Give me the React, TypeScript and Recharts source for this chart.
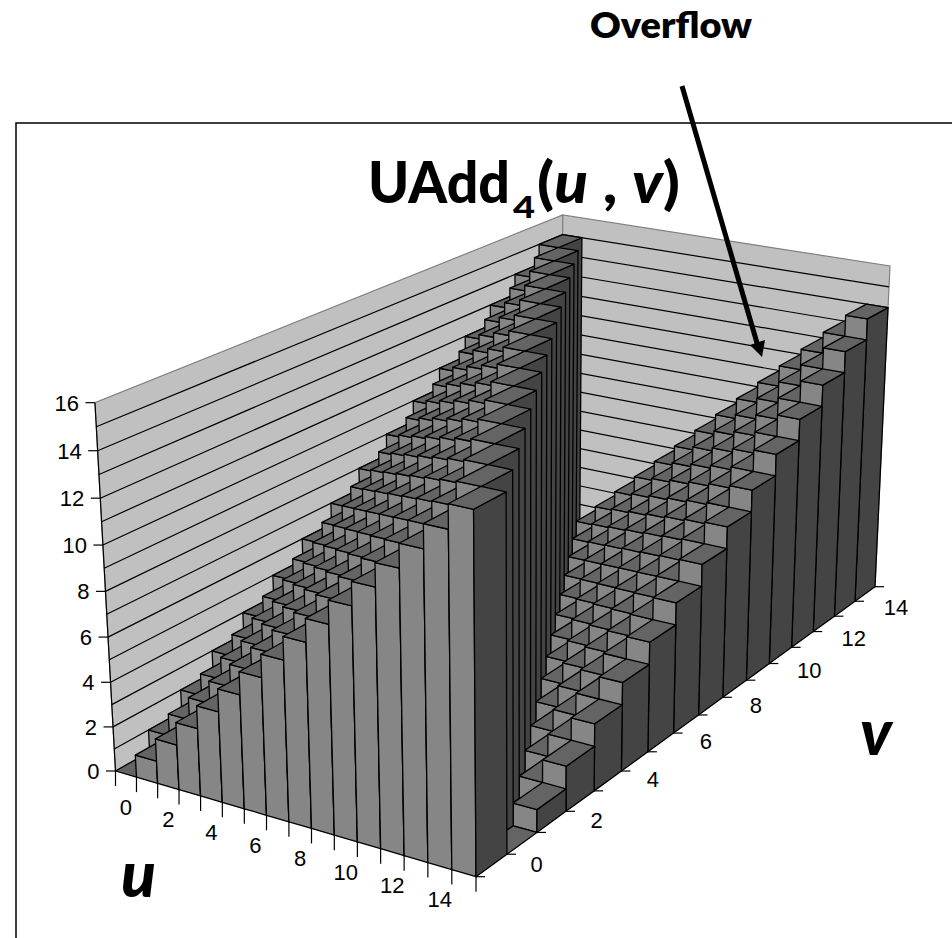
import { ScatterChart, Scatter, XAxis, YAxis } from "recharts";

const WIDTH = 952;
const HEIGHT = 938;

// u categories along the front-left edge, v categories along the front-right edge
const uCategories = [0, 1, 2, 3, 4, 5, 6, 7, 8, 9, 10, 11, 12, 13, 14, 15];
const uLabels = [0, 2, 4, 6, 8, 10, 12, 14];
const vLabels = [0, 2, 4, 6, 8, 10, 12, 14];
const edgeTicks = [0, 1, 2, 3, 4, 5, 6, 7, 8, 9, 10, 11, 12, 13, 14, 15, 16];
const valueTicks = [0, 2, 4, 6, 8, 10, 12, 14, 16];
const wallLines = [1, 2, 3, 4, 5, 6, 7, 8, 9, 10, 11, 12, 13, 14, 15];

// one row of bar heights per v
const rowV0 = [0, 1, 2, 3, 4, 5, 6, 7, 8, 9, 10, 11, 12, 13, 14, 15];
const rowV1 = [1, 2, 3, 4, 5, 6, 7, 8, 9, 10, 11, 12, 13, 14, 15, 0];
const rowV2 = [2, 3, 4, 5, 6, 7, 8, 9, 10, 11, 12, 13, 14, 15, 0, 1];
const rowV3 = [3, 4, 5, 6, 7, 8, 9, 10, 11, 12, 13, 14, 15, 0, 1, 2];
const rowV4 = [4, 5, 6, 7, 8, 9, 10, 11, 12, 13, 14, 15, 0, 1, 2, 3];
const rowV5 = [5, 6, 7, 8, 9, 10, 11, 12, 13, 14, 15, 0, 1, 2, 3, 4];
const rowV6 = [6, 7, 8, 9, 10, 11, 12, 13, 14, 15, 0, 1, 2, 3, 4, 5];
const rowV7 = [7, 8, 9, 10, 11, 12, 13, 14, 15, 0, 1, 2, 3, 4, 5, 6];
const rowV8 = [8, 9, 10, 11, 12, 13, 14, 15, 0, 1, 2, 3, 4, 5, 6, 7];
const rowV9 = [9, 10, 11, 12, 13, 14, 15, 0, 1, 2, 3, 4, 5, 6, 7, 8];
const rowV10 = [10, 11, 12, 13, 14, 15, 0, 1, 2, 3, 4, 5, 6, 7, 8, 9];
const rowV11 = [11, 12, 13, 14, 15, 0, 1, 2, 3, 4, 5, 6, 7, 8, 9, 10];
const rowV12 = [12, 13, 14, 15, 0, 1, 2, 3, 4, 5, 6, 7, 8, 9, 10, 11];
const rowV13 = [13, 14, 15, 0, 1, 2, 3, 4, 5, 6, 7, 8, 9, 10, 11, 12];
const rowV14 = [14, 15, 0, 1, 2, 3, 4, 5, 6, 7, 8, 9, 10, 11, 12, 13];
const rowV15 = [15, 0, 1, 2, 3, 4, 5, 6, 7, 8, 9, 10, 11, 12, 13, 14];

const rows = [
  rowV0, rowV1, rowV2, rowV3, rowV4, rowV5, rowV6, rowV7,
  rowV8, rowV9, rowV10, rowV11, rowV12, rowV13, rowV14, rowV15,
];

// back rows first, so nearer bars paint over them
const cells = rows
  .map((row, v) => uCategories.map((u) => ({ u, v, value: row[u] })))
  .reverse()
  .flat();

const COLORS = {
  wall: "#c0c0c0",
  wallEdge: "#808080",
  top: "#646464",
  light: "#868686",
  dark: "#444444",
};

// camera: floor corners on screen with their weights, and where the verticals meet
const cornerA = { x: 115.5, y: 771, w: 20.89 }; // u=0, v=0
const cornerB = { x: 476, y: 876.7, w: 19.36 }; // u=16, v=0
const cornerC = { x: 875, y: 586.7, w: 24.42 }; // u=16, v=16
const vanish = { x: 524, y: 8097 };
const SPAN = 16;

function project(u: number, v: number, z: number) {
  const a = u / SPAN;
  const b = v / SPAN;
  const c = z / SPAN;
  const hx =
    cornerA.w * cornerA.x +
    a * (cornerB.w * cornerB.x - cornerA.w * cornerA.x) +
    b * (cornerC.w * cornerC.x - cornerB.w * cornerB.x) -
    c * vanish.x;
  const hy =
    cornerA.w * cornerA.y +
    a * (cornerB.w * cornerB.y - cornerA.w * cornerA.y) +
    b * (cornerC.w * cornerC.y - cornerB.w * cornerB.y) -
    c * vanish.y;
  const hw = cornerA.w + a * (cornerB.w - cornerA.w) + b * (cornerC.w - cornerB.w) - c;
  return { x: hx / hw, y: hy / hw };
}

function poly(points: number[][]) {
  return points
    .map(([u, v, z]) => {
      const p = project(u, v, z);
      return `${p.x.toFixed(2)},${p.y.toFixed(2)}`;
    })
    .join(" ");
}

// the scales lay the floor out flat over the plot area, this turns that into u and v
function BarShape(props: any) {
  const u = (props.cx / WIDTH) * SPAN;
  const v = ((HEIGHT - props.cy) / HEIGHT) * SPAN;
  const h = props.payload.value;
  const line = { stroke: "#000", strokeWidth: 1.3, strokeLinejoin: "round" as const };
  return (
    <g>
      {h > 0 && (
        <polygon
          points={poly([[u, v, 0], [u + 1, v, 0], [u + 1, v, h], [u, v, h]])}
          fill={COLORS.light}
          {...line}
        />
      )}
      {h > 0 && (
        <polygon
          points={poly([[u + 1, v, 0], [u + 1, v + 1, 0], [u + 1, v + 1, h], [u + 1, v, h]])}
          fill={COLORS.dark}
          {...line}
        />
      )}
      <polygon
        points={poly([[u, v, h], [u + 1, v, h], [u + 1, v + 1, h], [u, v + 1, h]])}
        fill={COLORS.top}
        {...line}
      />
    </g>
  );
}

function Walls() {
  const base = project(0, 0, 0);
  const tip = project(0, 0, SPAN);
  return (
    <g>
      <polygon
        points={poly([[0, 0, 0], [0, SPAN, 0], [0, SPAN, SPAN], [0, 0, SPAN]])}
        fill={COLORS.wall}
        stroke={COLORS.wallEdge}
        strokeWidth={1.2}
      />
      <polygon
        points={poly([[0, SPAN, 0], [SPAN, SPAN, 0], [SPAN, SPAN, SPAN], [0, SPAN, SPAN]])}
        fill={COLORS.wall}
        stroke={COLORS.wallEdge}
        strokeWidth={1.2}
      />
      <polygon
        points={poly([[0, 0, 0], [SPAN, 0, 0], [SPAN, SPAN, 0], [0, SPAN, 0]])}
        fill={COLORS.top}
      />
      <line x1={base.x} y1={base.y} x2={tip.x} y2={tip.y} stroke="#000" strokeWidth={1.2} />
    </g>
  );
}

// wall lines sit on the value axis, so z comes back from its scale
function WallLine(props: any) {
  const z = ((HEIGHT - props.cy) / HEIGHT) * SPAN;
  return (
    <polyline
      points={poly([[0, 0, z], [0, SPAN, z], [SPAN, SPAN, z]])}
      fill="none"
      stroke="#000"
      strokeWidth={1.2}
    />
  );
}

const tickFont = { fontFamily: "'Liberation Sans', Arial, sans-serif", fontSize: 22, fill: "#000" };

function UTick(props: any) {
  const u = props.payload.value;
  const p = project(u, 0, 0);
  const mid = project(u + 0.5, 0, 0);
  return (
    <g>
      <line x1={p.x} y1={p.y} x2={p.x} y2={p.y + 15} stroke="#000" strokeWidth={1.2} />
      {uLabels.includes(u) && (
        <text x={mid.x} y={mid.y + 41} textAnchor="middle" {...tickFont}>
          {u}
        </text>
      )}
    </g>
  );
}

function VTick(props: any) {
  const v = props.payload.value;
  const p = project(SPAN, v, 0);
  const mid = project(SPAN, v + 0.5, 0);
  return (
    <g>
      <line x1={p.x} y1={p.y} x2={p.x + 9} y2={p.y} stroke="#000" strokeWidth={1.2} />
      {vLabels.includes(v) && (
        <text x={mid.x + 39} y={mid.y + 6.5} {...tickFont}>
          {v}
        </text>
      )}
    </g>
  );
}

function ValueTick(props: any) {
  const z = props.payload.value;
  const p = project(0, 0, z);
  return (
    <g>
      <line x1={p.x - 9.5} y1={p.y} x2={p.x} y2={p.y} stroke="#000" strokeWidth={1.2} />
      <text x={p.x - 16} y={p.y + 8} textAnchor="end" {...tickFont}>
        {z}
      </text>
    </g>
  );
}

const labelFont = "Lato, 'Open Sans', sans-serif";

// frame, title, arrow and the two axis letters, painted after the bars
function Annotations() {
  const title = { fontFamily: labelFont, fontWeight: 900, lengthAdjust: "spacingAndGlyphs" };
  return (
    <g>
      <path d="M16 938 L16 123 L952 123" fill="none" stroke="#000" strokeWidth={1.5} />
      <text x={590} y={38} fontFamily={labelFont} fontWeight={800} fontSize={36} textLength={162} lengthAdjust="spacingAndGlyphs">
        Overflow
      </text>
      <text x={368} y={203} fontSize={57} textLength={142} {...title}>
        UAdd
      </text>
      <text x={513} y={218} fontSize={30} textLength={22} {...title}>
        4
      </text>
      <text x={537} y={203} fontSize={57} textLength={143} {...title}>
        (<tspan fontStyle="italic">u</tspan> , <tspan fontStyle="italic">v</tspan>)
      </text>
      <line x1={682} y1={86} x2={757} y2={343} stroke="#000" strokeWidth={5} />
      <polygon points="762,357 750,345 765,340" fill="#000" />
      <text x={121} y={897} fontFamily={labelFont} fontWeight={900} fontStyle="italic" fontSize={64}>
        u
      </text>
      <text x={860} y={755} fontFamily={labelFont} fontWeight={900} fontStyle="italic" fontSize={64}>
        v
      </text>
    </g>
  );
}

const wallSeries = [{ u: 0, v: 0 }];
const wallLineSeries = wallLines.map((z) => ({ u: 0, z }));

export default function App() {
  return (
    <div style={{ position: "absolute", left: 0, top: 0, width: WIDTH, height: HEIGHT, background: "#fff" }}>
      {/* axes need 1px to draw at all, the negative margins give that back */}
      <ScatterChart width={WIDTH} height={HEIGHT} margin={{ top: 0, right: 0, bottom: -1, left: -2 }}>
        <XAxis
          type="number"
          dataKey="u"
          domain={[0, SPAN]}
          ticks={edgeTicks}
          interval={0}
          height={1}
          axisLine={false}
          tickLine={false}
          tick={UTick}
        />
        <YAxis
          type="number"
          dataKey="v"
          domain={[0, SPAN]}
          ticks={edgeTicks}
          interval={0}
          width={1}
          axisLine={false}
          tickLine={false}
          tick={VTick}
        />
        <YAxis
          yAxisId="value"
          type="number"
          dataKey="z"
          domain={[0, SPAN]}
          ticks={valueTicks}
          interval={0}
          width={1}
          axisLine={false}
          tickLine={false}
          tick={ValueTick}
        />
        <Scatter data={wallSeries} shape={Walls} isAnimationActive={false} />
        <Scatter yAxisId="value" data={wallLineSeries} shape={WallLine} isAnimationActive={false} />
        <Scatter data={cells} shape={BarShape} isAnimationActive={false} />
        <Scatter data={wallSeries} shape={Annotations} isAnimationActive={false} />
      </ScatterChart>
    </div>
  );
}
